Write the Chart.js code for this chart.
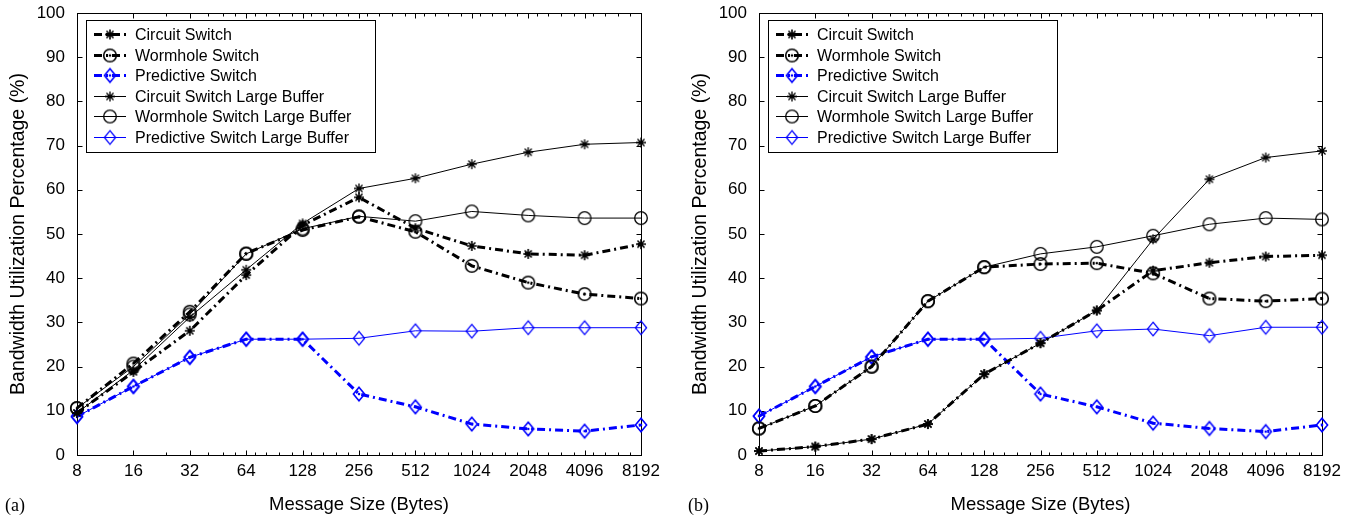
<!DOCTYPE html>
<html>
<head>
<meta charset="utf-8">
<script src="https://cdn.jsdelivr.net/npm/chart.js@4.4.0/dist/chart.umd.min.js"></script>
<style>
body { margin: 0; background: #fff; width: 1356px; height: 517px; overflow: hidden; position: relative; }
.panel { position: absolute; top: 0; width: 678px; height: 517px; }
.tag { position: absolute; top: 495px; font: 18px "Liberation Serif", serif; color: #000; }
</style>
</head>
<body>
<div class="panel" style="left:0"><canvas id="chartA" width="678" height="517"></canvas></div>
<div class="panel" style="left:678px"><canvas id="chartB" width="678" height="517"></canvas></div>
<div class="tag" style="left:5px">(a)</div>
<div class="tag" style="left:688px">(b)</div>
<script>
// message sizes (bytes) on the x axis
const sizes = [8, 16, 32, 64, 128, 256, 512, 1024, 2048, 4096, 8192];
const names = ['Circuit Switch', 'Wormhole Switch', 'Predictive Switch',
  'Circuit Switch Large Buffer', 'Wormhole Switch Large Buffer', 'Predictive Switch Large Buffer'];

// (a)
const circuitA = [9.5, 18.8, 28.1, 40.7, 52.0, 58.3, 51.3, 47.3, 45.5, 45.2, 47.7];
const wormholeA = [10.6, 20.7, 32.4, 45.6, 50.9, 53.9, 50.5, 42.8, 39.0, 36.4, 35.4];
const predictiveA = [8.7, 15.5, 22.1, 26.2, 26.2, 13.8, 10.9, 7.0, 5.9, 5.4, 6.8];
const circuitLargeA = [9.5, 19.2, 31.2, 41.9, 52.4, 60.3, 62.6, 65.8, 68.5, 70.3, 70.7];
const wormholeLargeA = [10.6, 20.0, 31.8, 45.5, 51.2, 54.0, 52.9, 55.1, 54.2, 53.6, 53.6];
const predictiveLargeA = [8.7, 15.5, 22.1, 26.2, 26.2, 26.4, 28.1, 28.0, 28.8, 28.8, 28.8];

// (b)
const circuitB = [0.9, 1.9, 3.6, 7.0, 18.3, 25.3, 32.7, 41.7, 43.5, 44.9, 45.2];
const wormholeB = [6.0, 11.1, 20.0, 34.8, 42.5, 43.2, 43.4, 41.1, 35.4, 34.8, 35.4];
const predictiveB = [8.8, 15.5, 22.2, 26.2, 26.2, 13.8, 10.9, 7.2, 6.0, 5.3, 6.8];
const circuitLargeB = [0.9, 1.9, 3.6, 7.0, 18.3, 25.3, 32.7, 48.8, 62.4, 67.3, 68.8];
const wormholeLargeB = [6.0, 11.1, 20.0, 34.8, 42.5, 45.5, 47.1, 49.6, 52.2, 53.6, 53.3];
const predictiveLargeB = [8.8, 15.5, 22.2, 26.2, 26.2, 26.4, 28.1, 28.5, 27.0, 28.9, 28.9];

// minor tick marks on the x axis
const minorTicks = [24, 40, 48, 56];
[64, 128, 256, 512, 1024, 2048, 4096].forEach(b => {
  [1.11, 1.28, 1.5, 1.75].forEach(m => minorTicks.push(b * m));
});

function marker(shape, color, lw, dot) {
  const c = document.createElement('canvas');
  c.width = 18; c.height = 18;
  const g = c.getContext('2d');
  g.strokeStyle = color; g.fillStyle = color; g.lineWidth = lw;
  const cx = 9, cy = 9;
  g.beginPath();
  if (shape === 'star') {
    for (let k = 0; k < 4; k++) {
      const t = k * Math.PI / 4, r = 5;
      g.moveTo(cx - r * Math.cos(t), cy - r * Math.sin(t));
      g.lineTo(cx + r * Math.cos(t), cy + r * Math.sin(t));
    }
  } else if (shape === 'circle') {
    g.arc(cx, cy, 6.3, 0, Math.PI * 2);
  } else {
    g.moveTo(cx, cy - 6.8); g.lineTo(cx + 5.6, cy); g.lineTo(cx, cy + 6.8); g.lineTo(cx - 5.6, cy); g.closePath();
  }
  g.stroke();
  if (dot) { g.beginPath(); g.arc(cx, cy, 1.3, 0, Math.PI * 2); g.fill(); }
  return c;
}

function makeSet(label, values, color, thick, shape, dot) {
  return {
    label: label,
    data: values.map((v, i) => ({ x: sizes[i], y: v })),
    borderColor: color,
    borderWidth: thick ? 3 : 1,
    borderDash: thick ? [8, 4, 2, 4] : [],
    pointStyle: marker(shape, color, thick ? 1.6 : 1.3, dot),
    pointRadius: 6,
    tension: 0,
    fill: false,
    clip: false
  };
}

// box round the plot, with inward ticks on all four sides
const frame = {
  id: 'frame',
  beforeDatasetsDraw(chart) {
    const { ctx, chartArea: a, scales: { x, y } } = chart;
    const L = Math.round(a.left) + 0.5, R = Math.round(a.right) + 0.5;
    const T = Math.round(a.top) + 0.5, B = Math.round(a.bottom) + 0.5;
    ctx.save();
    ctx.strokeStyle = '#000'; ctx.lineWidth = 1;
    ctx.strokeRect(L, T, R - L, B - T);
    ctx.beginPath();
    y.ticks.forEach(t => {
      const py = Math.round(y.getPixelForValue(t.value)) + 0.5;
      ctx.moveTo(L, py); ctx.lineTo(L + 5, py);
      ctx.moveTo(R, py); ctx.lineTo(R - 5, py);
    });
    sizes.forEach(v => {
      const px = Math.round(x.getPixelForValue(v)) + 0.5;
      ctx.moveTo(px, B); ctx.lineTo(px, B - 5);
      ctx.moveTo(px, T); ctx.lineTo(px, T + 5);
    });
    minorTicks.forEach(v => {
      const px = Math.round(x.getPixelForValue(v)) + 0.5;
      ctx.moveTo(px, B); ctx.lineTo(px, B - 3);
      ctx.moveTo(px, T); ctx.lineTo(px, T + 3);
    });
    ctx.stroke();
    ctx.restore();
  }
};

const legendBox = {
  id: 'legendBox',
  afterDatasetsDraw(chart) {
    const { ctx, chartArea: a } = chart;
    const bx = Math.round(a.left) + 9, by = Math.round(a.top) + 7, bw = 289, bh = 132;
    ctx.save();
    ctx.fillStyle = '#fff';
    ctx.fillRect(bx, by, bw, bh);
    ctx.strokeStyle = '#000'; ctx.lineWidth = 1;
    ctx.strokeRect(bx + 0.5, by + 0.5, bw, bh);
    ctx.font = '16px "Liberation Sans", Arial, sans-serif';
    ctx.textBaseline = 'middle';
    chart.data.datasets.forEach((ds, i) => {
      const yy = Math.round(by + 14 + i * 20.6) + 0.5;
      ctx.strokeStyle = ds.borderColor;
      ctx.lineWidth = ds.borderWidth;
      ctx.setLineDash(ds.borderDash);
      ctx.beginPath(); ctx.moveTo(bx + 8, yy); ctx.lineTo(bx + 40, yy); ctx.stroke();
      ctx.setLineDash([]);
      ctx.drawImage(ds.pointStyle, bx + 24 - 9, yy - 9);
      ctx.fillStyle = '#000';
      ctx.fillText(ds.label, bx + 49, yy + 1);
    });
    ctx.restore();
  }
};

function makeChart(id, values, axisWidth, rightPad, titlePad) {
  const sets = [
    makeSet(names[0], values[0], '#000', true, 'star', false),
    makeSet(names[1], values[1], '#000', true, 'circle', true),
    makeSet(names[2], values[2], '#0000ff', true, 'diamond', true),
    makeSet(names[3], values[3], '#000', false, 'star', false),
    makeSet(names[4], values[4], '#000', false, 'circle', false),
    makeSet(names[5], values[5], '#0000ff', false, 'diamond', false)
  ];
  new Chart(document.getElementById(id), {
    type: 'line',
    data: { datasets: sets },
    options: {
      responsive: false,
      animation: false,
      layout: { padding: { top: 13, right: rightPad, left: 0, bottom: 0 } },
      plugins: { legend: { display: false }, tooltip: { enabled: false } },
      scales: {
        x: {
          type: 'logarithmic', min: 8, max: 8192,
          afterBuildTicks: s => { s.ticks = sizes.map(v => ({ value: v })); },
          afterFit: s => { s.height = 62; },
          grid: { display: false, drawTicks: false },
          border: { display: false },
          ticks: { autoSkip: false, maxRotation: 0, padding: 6, color: '#000',
            font: { family: '"Liberation Sans", Arial, sans-serif', size: 17 },
            callback: v => String(v) },
          title: { display: true, text: 'Message Size (Bytes)', color: '#000',
            font: { family: '"Liberation Sans", Arial, sans-serif', size: 18.5 },
            padding: { top: 0, bottom: 1 } }
        },
        y: {
          min: 0, max: 100,
          afterFit: s => { s.width = axisWidth; s.paddingTop = 0; s.paddingBottom = 0; },
          grid: { display: false, drawTicks: false },
          border: { display: false },
          ticks: { stepSize: 10, padding: 12, color: '#000',
            font: { family: '"Liberation Sans", Arial, sans-serif', size: 17 } },
          title: { display: true, text: 'Bandwidth Utilization Percentage (%)', color: '#000',
            font: { family: '"Liberation Sans", Arial, sans-serif', size: 19.5 },
            padding: { top: titlePad, bottom: 0 } }
        }
      }
    },
    plugins: [frame, legendBox]
  });
}

makeChart('chartA', [circuitA, wormholeA, predictiveA, circuitLargeA, wormholeLargeA, predictiveLargeA], 77, 37, 7);
makeChart('chartB', [circuitB, wormholeB, predictiveB, circuitLargeB, wormholeLargeB, predictiveLargeB], 81, 34, 11);
</script>
</body>
</html>
